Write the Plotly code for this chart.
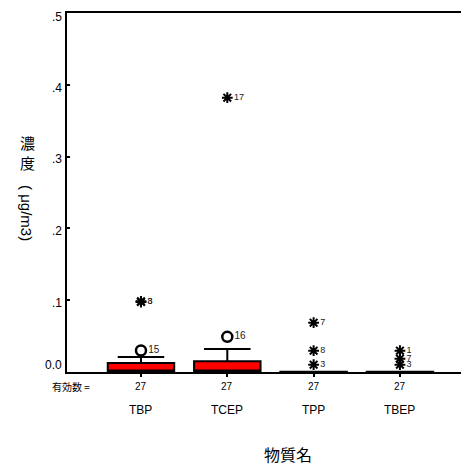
import plotly.graph_objects as go

categories = ["TBP", "TCEP", "TPP", "TBEP"]
counts = ["27", "27", "27", "27"]
q1 = [0.0, 0.0, 0.0, 0.0]
median = [0.002, 0.002, 0.0, 0.0]
q3 = [0.0125, 0.015, 0.0005, 0.0005]
lower = [0.0, 0.0, 0.0, 0.0]
upper = [0.021, 0.032, 0.0005, 0.0005]

# outliers (circle) : category index, value, case label
circ_cat = [0, 1]
circ_val = [0.030, 0.049]
circ_lab = ["15", "16"]
# extremes (asterisk)
star_cat = [0, 0, 1, 2, 2, 2, 3, 3, 3]
star_val = [0.0975, 0.0985, 0.382, 0.0687, 0.0297, 0.0102, 0.0297, 0.0185, 0.0102]
star_lab = ["3", "8", "17", "7", "8", "3", "1", "7", "3"]

yticks = [0, 0.1, 0.2, 0.3, 0.4, 0.5]
yticktext = ["0.0", ".1", ".2", ".3", ".4", ".5"]

FONT = "Liberation Sans, Arial, sans-serif"
CJK = "Noto Sans CJK JP, sans-serif"

# the page body has an 8px margin: the figure starts at (8, 8)
OFF = 8
W, H = 469 - OFF, 467 - OFF
L, T = 67 - OFF, 13 - OFF
PW, PH = 402, 359

fig = go.Figure()
for i, c in enumerate(categories):
    fig.add_trace(go.Box(
        x=[i], q1=[q1[i]], median=[median[i]], q3=[q3[i]],
        lowerfence=[lower[i]], upperfence=[upper[i]],
        fillcolor="#ff0000", line=dict(color="black", width=2),
        width=0.77, whiskerwidth=0.7, boxpoints=False, showlegend=False,
        hoverinfo="skip"))

fig.add_trace(go.Scatter(
    x=circ_cat, y=circ_val, mode="markers+text", text=circ_lab,
    textposition="middle right", textfont=dict(size=10, family=FONT, color="#222"),
    marker=dict(symbol="circle-open", size=10, color="black", line=dict(width=2.5)),
    showlegend=False, cliponaxis=False))
fig.add_trace(go.Scatter(
    x=star_cat, y=star_val, mode="markers+text", text=star_lab,
    textposition="middle right", textfont=dict(size=9, family=FONT, color="#222"),
    marker=dict(symbol="asterisk-open", size=9, color="black", line=dict(width=2, color="black")),
    showlegend=False, cliponaxis=False))

fig.update_layout(
    width=W, height=H,
    margin=dict(l=L, r=W - L - PW, t=T, b=H - T - PH, autoexpand=False),
    plot_bgcolor="white", paper_bgcolor="white",
    font=dict(family=FONT, size=12, color="black"),
    xaxis=dict(range=[-0.857, 3.80], showgrid=False, zeroline=False,
               showline=True, linecolor="black", linewidth=2, mirror=True,
               tickvals=[0, 1, 2, 3], ticktext=["", "", "", ""],
               ticks="outside", ticklen=3, tickwidth=2, tickcolor="black"),
    yaxis=dict(range=[0, 0.5], showgrid=False, zeroline=False,
               showline=True, linecolor="black", linewidth=2,
               tickvals=yticks, ticktext=["", "", "", "", "", ""],
               ticks="inside", ticklen=3, tickwidth=2, tickcolor="black"),
)

def px(xp):
    return (xp - 67) / PW

def py(yp):
    return (372 - yp) / PH

def note(text, x, y, xref="paper", size=12, family=FONT, xanchor="center", **kw):
    return dict(text=text, x=x, y=y, xref=xref, yref="paper", showarrow=False,
                xanchor=xanchor, yanchor="middle", font=dict(size=size, family=family), **kw)

ann = []
# y tick labels (SPSS style: slightly below each tick, 0.0 raised)
ylab_y = [365, 303, 231, 159, 88, 17]
for t, yy in zip(yticktext, ylab_y):
    ann.append(note(t, px(64), py(yy), xanchor="right"))
ann.append(note("有効数 =", px(71), py(386), size=10, family=CJK))
for i, c in enumerate(categories):
    ann.append(note(counts[i], i, py(386), xref="x", size=10))
    ann.append(note(c, i, py(410), xref="x", size=12))
ann.append(note("物質名", px(288), py(454), size=16, family=CJK))
ann.append(note("濃<br>度", px(27), py(152), size=15, family=CJK))
ann.append(note("( μg/m3)", px(27), py(213), size=15, textangle=90))
fig.update_layout(annotations=ann)

fig.write_html("out.html")
